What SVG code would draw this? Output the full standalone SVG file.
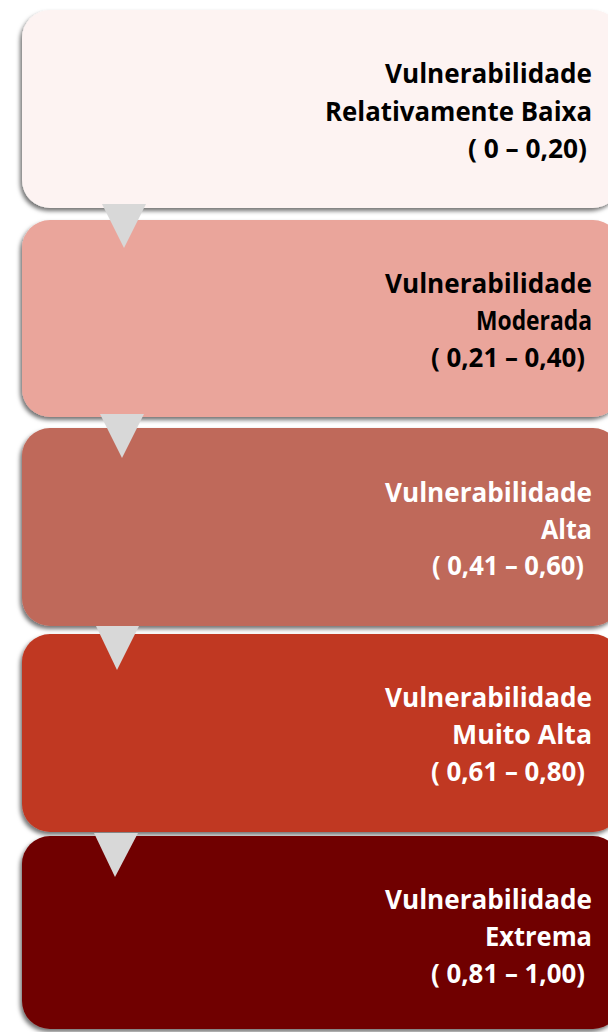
<svg xmlns="http://www.w3.org/2000/svg" width="608" height="1032" viewBox="0 0 608 1032">
<style>
.t{font-family:"Open Sans","Liberation Sans",sans-serif;font-weight:bold;font-size:26px;text-anchor:end}
.dk{fill:#000000}
.wt{fill:#FFFFFF}
.arrow{fill:#D8D8D8}
</style>
<defs>
<filter id="sh" x="-5%" y="-10%" width="110%" height="125%">
<feDropShadow dx="-2" dy="3" stdDeviation="2" flood-color="#000000" flood-opacity="0.55"/>
</filter>
</defs>
<rect width="608" height="1032" fill="#FFFFFF"/>
<g id="node1">
<rect x="22" y="10" width="599" height="198" rx="28" fill="#FDF3F2" filter="url(#sh)"/>
<text class="t dk" x="592" y="83" textLength="207" lengthAdjust="spacingAndGlyphs">Vulnerabilidade</text>
<text class="t dk" x="592" y="121" textLength="267" lengthAdjust="spacingAndGlyphs">Relativamente Baixa</text>
<text class="t dk" x="587" y="158" textLength="119" lengthAdjust="spacingAndGlyphs">( 0 – 0,20)</text>
</g>
<g id="node2">
<rect x="22" y="220" width="599" height="197" rx="28" fill="#EAA59B" filter="url(#sh)"/>
<text class="t dk" x="592" y="293" textLength="207" lengthAdjust="spacingAndGlyphs">Vulnerabilidade</text>
<text class="t dk" x="592" y="330" textLength="116" lengthAdjust="spacingAndGlyphs">Moderada</text>
<text class="t dk" x="585" y="367" textLength="154" lengthAdjust="spacingAndGlyphs">( 0,21 – 0,40)</text>
</g>
<g id="node3">
<rect x="22" y="428" width="599" height="198" rx="28" fill="#BF695A" filter="url(#sh)"/>
<text class="t wt" x="592" y="502" textLength="207" lengthAdjust="spacingAndGlyphs">Vulnerabilidade</text>
<text class="t wt" x="592" y="539" textLength="51" lengthAdjust="spacingAndGlyphs">Alta</text>
<text class="t wt" x="584" y="575" textLength="152" lengthAdjust="spacingAndGlyphs">( 0,41 – 0,60)</text>
</g>
<g id="node4">
<rect x="22" y="634" width="599" height="198" rx="28" fill="#C03823" filter="url(#sh)"/>
<text class="t wt" x="592" y="707" textLength="207" lengthAdjust="spacingAndGlyphs">Vulnerabilidade</text>
<text class="t wt" x="592" y="744" textLength="140" lengthAdjust="spacingAndGlyphs">Muito Alta</text>
<text class="t wt" x="585" y="781" textLength="154" lengthAdjust="spacingAndGlyphs">( 0,61 – 0,80)</text>
</g>
<g id="node5">
<rect x="22" y="836" width="599" height="193" rx="28" fill="#700000" filter="url(#sh)"/>
<text class="t wt" x="592" y="909" textLength="207" lengthAdjust="spacingAndGlyphs">Vulnerabilidade</text>
<text class="t wt" x="592" y="946" textLength="107" lengthAdjust="spacingAndGlyphs">Extrema</text>
<text class="t wt" x="585" y="983" textLength="154" lengthAdjust="spacingAndGlyphs">( 0,81 – 1,00)</text>
</g>
<g id="connectors">
<polygon class="arrow" points="102,204 146,204 124,248"/>
<polygon class="arrow" points="100,414 144,414 122,458"/>
<polygon class="arrow" points="96,626 139,626 117,670"/>
<polygon class="arrow" points="94,833 138,833 115,877"/>
</g>
</svg>
